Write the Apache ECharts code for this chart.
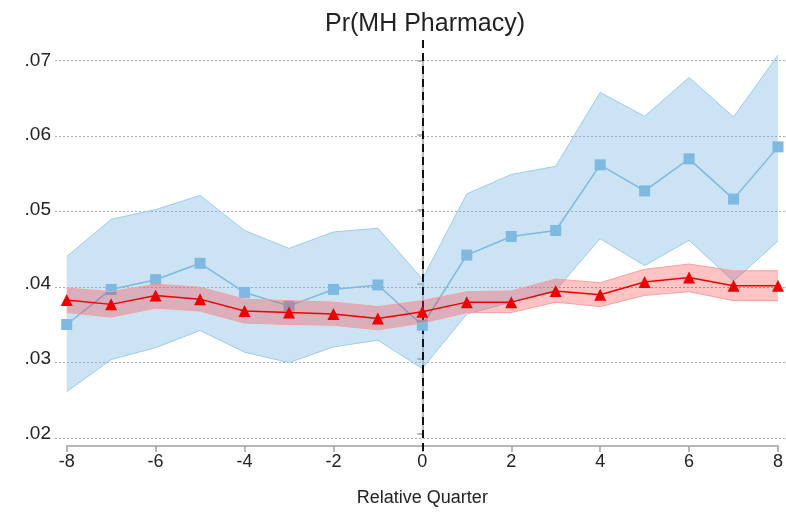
<!DOCTYPE html>
<html>
<head>
<meta charset="utf-8">
<script src="https://cdn.jsdelivr.net/npm/echarts@6/dist/echarts.min.js"></script>
<style>
  html, body { margin: 0; padding: 0; background: #fff; }
  #main { width: 786px; height: 512px; }
</style>
</head>
<body>
<div id="main"></div>
<script>
// relative quarters
var quarters = [-8, -7, -6, -5, -4, -3, -2, -1, 0, 1, 2, 3, 4, 5, 6, 7, 8];

// blue series (squares) + its CI
var blueMean = [0.0346, 0.0393, 0.0406, 0.0428, 0.0389, 0.0371, 0.0393, 0.0399, 0.0345,
                0.0439, 0.0464, 0.0472, 0.0560, 0.0525, 0.0568, 0.0514, 0.0584];
var blueHi = [0.0437, 0.0487, 0.0500, 0.0519, 0.0472, 0.0448, 0.0470, 0.0475, 0.0407,
              0.0521, 0.0547, 0.0558, 0.0657, 0.0625, 0.0677, 0.0624, 0.0707];
var blueLo = [0.0256, 0.0299, 0.0315, 0.0338, 0.0309, 0.0295, 0.0316, 0.0325, 0.0287,
              0.0360, 0.0376, 0.0392, 0.0461, 0.0425, 0.0459, 0.0404, 0.0458];

// red series (triangles) + its CI
var redMean = [0.0379, 0.0373, 0.0385, 0.0380, 0.0364, 0.0362, 0.0360, 0.0354, 0.0363,
               0.0376, 0.0376, 0.0391, 0.0386, 0.0403, 0.0409, 0.0398, 0.0398];
var redHi = [0.0395, 0.0390, 0.0400, 0.0396, 0.0380, 0.0378, 0.0376, 0.0370, 0.0378,
             0.0390, 0.0391, 0.0407, 0.0402, 0.0420, 0.0427, 0.0418, 0.0418];
var redLo = [0.0362, 0.0356, 0.0368, 0.0364, 0.0348, 0.0346, 0.0345, 0.0339, 0.0348,
             0.0362, 0.0362, 0.0376, 0.0370, 0.0385, 0.0390, 0.0378, 0.0378];

function pairs(ys) {
  return quarters.map(function (q, i) { return [q, ys[i]]; });
}
function bandRows(lo, hi) {
  return quarters.map(function (q, i) { return [q, lo[i], hi[i]]; });
}

// whole band drawn as one polygon, points through api.coord
function bandRenderer(fill, edge) {
  return function (params, api) {
    if (params.dataIndex !== 0) return;
    var rows = params.context.rows;
    var upper = [], lower = [];
    for (var i = 0; i < rows.length; i++) {
      upper.push(api.coord([rows[i][0], rows[i][2]]));
      lower.push(api.coord([rows[i][0], rows[i][1]]));
    }
    var poly = upper.concat(lower.slice().reverse());
    return {
      type: 'group',
      children: [
        { type: 'polygon', shape: { points: poly }, style: { fill: fill } },
        { type: 'polyline', shape: { points: upper }, style: { stroke: edge, lineWidth: 1, fill: null } },
        { type: 'polyline', shape: { points: lower }, style: { stroke: edge, lineWidth: 1, fill: null } }
      ]
    };
  };
}

var blueRows = bandRows(blueLo, blueHi);
var redRows = bandRows(redLo, redHi);

var blue = '#7db9e1';
var red = '#ee0000';
var font = 'Liberation Sans, Arial, sans-serif';

var myChart = echarts.init(document.getElementById('main'));

var option = {
  animation: false,
  title: {
    text: 'Pr(MH Pharmacy)',
    left: 420,
    textAlign: 'center',
    top: 7,
    textStyle: { fontFamily: font, fontSize: 25, fontWeight: 'normal', color: '#222' }
  },
  grid: [
    { left: 66.7, right: 6.7, top: 60.3, bottom: 73.7 },   // data
    { left: 55, right: 0, top: 60.3, bottom: 73.7 },       // gridlines
    { left: 66.7, right: 6.7, top: 40, bottom: 61 }        // reference line
  ],
  xAxis: [
    {
      type: 'value', gridIndex: 0, min: -8, max: 8, interval: 2,
      offset: 12.5,
      name: 'Relative Quarter', nameLocation: 'middle', nameGap: 43,
      nameTextStyle: { fontFamily: font, fontSize: 18, color: '#222' },
      axisLine: { lineStyle: { color: '#a0a0a0', width: 1.5 } },
      axisTick: { inside: false, length: 6, lineStyle: { color: '#a0a0a0', width: 1.5 } },
      axisLabel: { fontFamily: font, fontSize: 18, color: '#222', margin: 7 },
      splitLine: { show: false }
    },
    { type: 'value', gridIndex: 1, min: -8, max: 8, show: false },
    { type: 'value', gridIndex: 2, min: -8, max: 8, show: false }
  ],
  yAxis: [
    {
      type: 'value', gridIndex: 0, min: 0.02, max: 0.07, interval: 0.01,
      offset: 11.7,
      axisLine: { show: true, lineStyle: { color: '#a0a0a0', width: 1.5 } },
      axisTick: { show: true, length: 5, lineStyle: { color: '#a0a0a0', width: 1.5 } },
      axisLabel: {
        fontFamily: font, fontSize: 19, color: '#222', margin: 4,
        formatter: function (v) { return v.toFixed(2).slice(1); }
      },
      splitLine: { show: false }
    },
    {
      type: 'value', gridIndex: 1, min: 0.02, max: 0.07, interval: 0.01,
      axisLine: { show: false }, axisTick: { show: false }, axisLabel: { show: false },
      splitLine: { show: true, lineStyle: { color: '#a8a8a8', type: [2, 2], width: 1 } }
    },
    { type: 'value', gridIndex: 2, min: 0, max: 1, show: false }
  ],
  series: [
    // blue band
    {
      type: 'custom', xAxisIndex: 0, yAxisIndex: 0,
      data: blueRows, encode: { x: 0, y: [1, 2] },
      renderItem: function (params, api) {
        params.context.rows = blueRows;
        return bandRenderer('rgba(125,185,225,0.4)', '#9ccbea')(params, api);
      },
      z: 2
    },
    // reference line at quarter 0
    {
      type: 'line', xAxisIndex: 2, yAxisIndex: 2,
      data: [[0, 0], [0, 1]], symbol: 'none',
      lineStyle: { color: '#111', width: 2, type: [8, 5] }, z: 3
    },
    // blue estimates
    {
      type: 'line', xAxisIndex: 0, yAxisIndex: 0,
      data: pairs(blueMean), symbol: 'rect', symbolSize: 11,
      lineStyle: { color: blue, width: 1.5 },
      itemStyle: { color: blue }, z: 4
    },
    // red band
    {
      type: 'custom', xAxisIndex: 0, yAxisIndex: 0,
      data: redRows, encode: { x: 0, y: [1, 2] },
      renderItem: function (params, api) {
        params.context.rows = redRows;
        return bandRenderer('rgba(255,40,40,0.28)', '#f7a0a0')(params, api);
      },
      z: 5
    },
    // red estimates
    {
      type: 'line', xAxisIndex: 0, yAxisIndex: 0,
      data: pairs(redMean), symbol: 'triangle', symbolSize: 12,
      lineStyle: { color: red, width: 1.5 },
      itemStyle: { color: red }, z: 6
    }
  ]
};

myChart.setOption(option);
</script>
</body>
</html>
